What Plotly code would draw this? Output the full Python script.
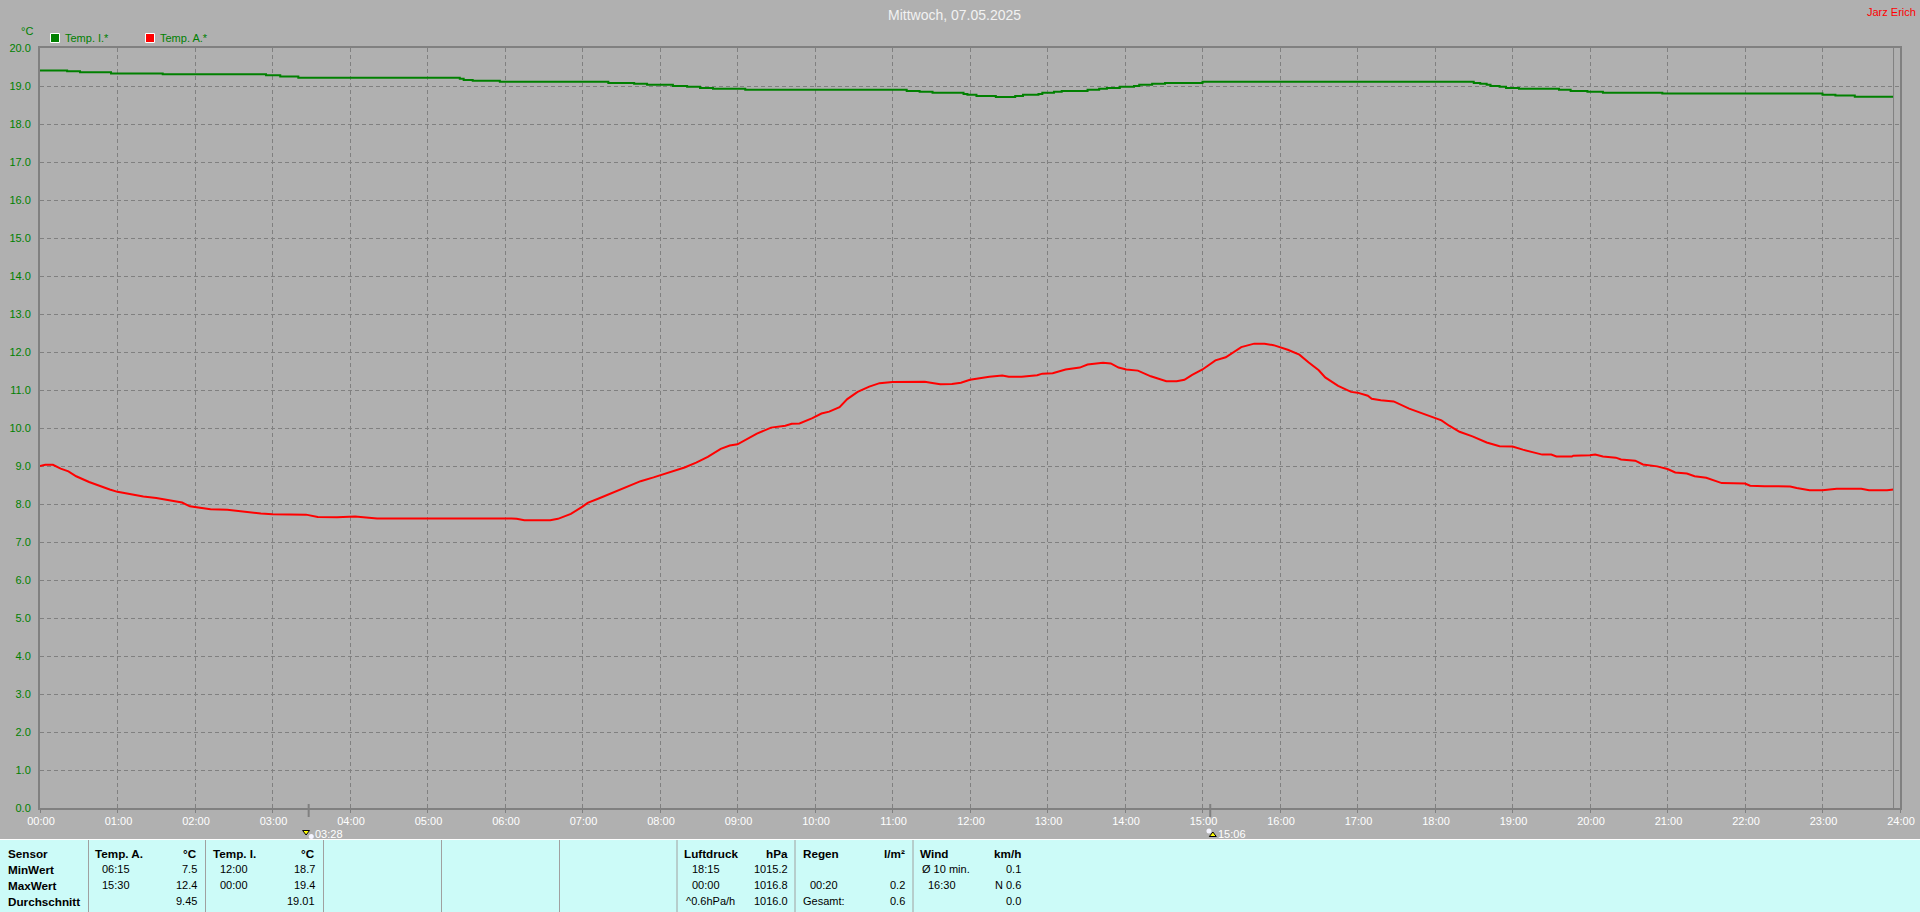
import plotly.graph_objects as go

# ---- data -----------------------------------------------------------------
red_min = [0,4,10,16,22,28,38,47,54,60,70,80,90,100,110,116,124,132,145,153,160,171,180,206,215,230,244,261,
           365,369,375,395,401,411,420,424,433,444,454,465,475,480,490,499,508,517,527,534,540,549,555,566,577,582,588,598,
           605,611,619,625,633,642,650,660,685,692,697,706,713,720,735,745,750,760,772,776,784,794,805,811,823,829,835,841,
           850,860,872,880,886,892,900,910,918,930,940,948,955,966,975,982,990,995,1005,1015,1020,1028,1031,1038,1048,1060,
           1071,1080,1085,1091,1099,1109,1120,1130,1140,1148,1156,1163,1170,1174,1186,1187,1200,1204,1210,1220,1224,1235,
           1241,1252,1260,1266,1275,1281,1290,1302,1320,1324,1335,1355,1360,1370,1380,1391,1410,1416,1430,1435]
red_val = [9.0,9.03,9.03,8.93,8.86,8.73,8.58,8.46,8.38,8.32,8.25,8.2,8.16,8.1,8.04,7.94,7.9,7.86,7.85,7.82,7.78,7.75,7.73,7.72,7.66,7.65,7.67,7.62,
           7.62,7.61,7.57,7.57,7.61,7.74,7.93,8.03,8.15,8.31,8.46,8.6,8.7,8.75,8.87,8.96,9.09,9.24,9.45,9.54,9.57,9.75,9.85,10.01,10.06,10.11,10.12,10.26,
           10.38,10.43,10.55,10.76,10.95,11.09,11.18,11.21,11.22,11.18,11.15,11.16,11.19,11.27,11.35,11.38,11.35,11.35,11.39,11.43,11.44,11.54,11.59,11.67,11.72,11.70,11.59,11.54,
           11.51,11.36,11.23,11.23,11.27,11.40,11.54,11.78,11.86,12.13,12.22,12.22,12.18,12.06,11.93,11.73,11.52,11.33,11.11,10.95,10.93,10.85,10.77,10.73,10.70,10.51,
           10.37,10.27,10.20,10.06,9.90,9.78,9.62,9.52,9.51,9.43,9.36,9.30,9.30,9.25,9.25,9.27,9.28,9.30,9.25,9.22,9.17,9.14,
           9.04,8.99,8.92,8.83,8.80,8.73,8.69,8.55,8.54,8.48,8.47,8.46,8.42,8.36,8.36,8.40,8.40,8.36,8.36,8.38]

green_min = [0,21,31,55,95,175,186,200,325,328,335,356,440,460,470,490,501,511,521,546,671,681,691,
             715,718,725,740,755,761,773,776,785,791,811,820,826,836,847,851,861,871,900,1110,1115,1120,1123,1130,1135,1145,
             1176,1185,1198,1210,1256,1380,1390,1405,1435]
green_val = [19.41,19.39,19.36,19.33,19.31,19.28,19.25,19.22,19.19,19.16,19.14,19.11,19.08,19.06,19.03,19.0,18.98,18.95,18.93,18.9,18.87,18.85,18.82,
             18.79,18.77,18.74,18.71,18.74,18.77,18.79,18.82,18.85,18.87,18.9,18.93,18.95,18.98,19.0,19.03,19.06,19.08,19.11,19.08,19.06,19.03,19.0,18.98,18.95,18.93,
             18.9,18.87,18.85,18.82,18.8,18.77,18.75,18.72,18.72]

hour_labels = ["%02d:00" % h for h in range(25)]
hour_ticks = [h * 60 for h in range(25)]
y_ticks = list(range(21))
y_labels = ["%d.0" % v for v in y_ticks]
sun_min = [208, 906]
sun_labels = ["03:28", "15:06"]
last_sample_min = 1435
title = "Mittwoch, 07.05.2025"
W, H = 1920, 912
BG, GRID, CYAN = "#B0B0B0", "#808080", "#CCFBF8"
FONT = "Liberation Sans"

px = lambda x: x / W
py = lambda y: 1 - y / H

fig = go.Figure()
# invisible trace that keeps the full-page helper axes alive
fig.add_trace(go.Scatter(x=[0], y=[0], xaxis="x2", yaxis="y2", mode="markers", marker=dict(opacity=0), hoverinfo="skip", showlegend=False))
fig.add_trace(go.Scatter(x=green_min, y=green_val, mode="lines", line=dict(color="#008000", width=2, shape="hv"),
                         showlegend=False, name="Temp. I.*"))
fig.add_trace(go.Scatter(x=red_min, y=red_val, mode="lines", line=dict(color="#FF0000", width=2),
                         showlegend=False, name="Temp. A.*"))

# sunrise / sunset icons under the axis (time on a hidden copy of the chart's x axis, height on the page axis)
fig.add_trace(go.Scatter(x=[sun_min[0] + 2, sun_min[1] - 1], y=[836.5, 831], xaxis="x3", yaxis="y2", mode="markers", showlegend=False,
                         cliponaxis=False, hoverinfo="skip", marker=dict(symbol="circle", size=5, color="#F4F4FF")))
fig.add_trace(go.Scatter(x=[sun_min[0] - 2, sun_min[1] + 2], y=[832, 835], xaxis="x3", yaxis="y2", mode="markers", showlegend=False,
                         cliponaxis=False, hoverinfo="skip", marker=dict(symbol=["triangle-down", "triangle-up"], size=6, color="#FFFF00",
                                                       line=dict(color="#000000", width=1))))

def line(x0, y0, x1, y1, color, width):
    return dict(type="line", xref="x2", yref="y2", x0=x0, x1=x1, y0=y0, y1=y1, line=dict(color=color, width=width))

shapes = [
    dict(type="rect", xref="x2", yref="y2", x0=0, x1=W, y0=840, y1=H, fillcolor=CYAN, line_width=0, layer="below"),
    line(0, 839.5, W, 839.5, "white", 1),
    dict(type="line", xref="x", yref="y domain", x0=last_sample_min, x1=last_sample_min, y0=0, y1=1, line=dict(color=GRID, width=1)),
    dict(type="rect", xref="x2", yref="y2", x0=50.5, x1=59.5, y0=33.5, y1=42.5, fillcolor="#008000", line=dict(color="white", width=1)),
    dict(type="rect", xref="x2", yref="y2", x0=145.5, x1=154.5, y0=33.5, y1=42.5, fillcolor="#FF0000", line=dict(color="white", width=1)),
]
for s in sun_min:
    shapes.append(dict(type="line", xref="x", yref="y2", x0=s, x1=s, y0=804, y1=817, line=dict(color=GRID, width=2)))
for sx in [88.5, 205.5, 323.5, 441.5, 559.5, 677, 795, 913]:
    shapes.append(line(sx, 840, sx, H, "#A0A0A0", 1))

anns = []
def txt(x, y, s, anchor="left", bold=False, color="black", size=11):
    t = "<b>%s</b>" % s if bold else s
    anns.append(dict(xref="x2", yref="y2", x=x, y=y, text=t, showarrow=False, xanchor=anchor, yanchor="middle",
                     borderpad=0, font=dict(family=FONT, size=size, color=color)))

txt(954, 15, title, "center", color="#F2F2F2", size=14)
txt(1917, 12, "Jarz Erich", "right", color="#FF0000")
txt(20, 31, "°C", color="#008000")
txt(64, 38, "Temp. I.*", color="#008000")
txt(159, 38, "Temp. A.*", color="#008000")
txt(314, 834, sun_labels[0], color="white")
txt(1217, 834, sun_labels[1], color="white")

rows = [853, 869, 885, 901]
for r, s in zip(rows, ["Sensor", "MinWert", "MaxWert", "Durchschnitt"]):
    txt(6.5, r, s, bold=True, size=11.7)

columns = [
    (94, 101, 198, "Temp. A.", "°C", ["06:15", "15:30", ""], ["7.5", "12.4", "9.45"]),
    (212, 219, 316, "Temp. I.", "°C", ["12:00", "00:00", ""], ["18.7", "19.4", "19.01"]),
    (683, 691, 789, "Luftdruck", "hPa", ["18:15", "00:00", ""], ["1015.2", "1016.8", "1016.0"]),
    (802, 809, 906, "Regen", "l/m²", ["", "00:20", ""], ["", "0.2", "0.6"]),
    (919, 927, 1022, "Wind", "km/h", ["", "16:30", ""], ["0.1", "N 0.6", "0.0"]),
]
for xl, xt, xr, head, unit, times, vals in columns:
    txt(xl, rows[0], head, bold=True, size=11.7)
    txt(xr, rows[0], unit, "right", bold=True, size=11.7)
    for r, t, v in zip(rows[1:], times, vals):
        if t:
            txt(xt, r, t)
        if v:
            txt(xr, r, v, "right")
txt(685, rows[3], "^0.6hPa/h")
txt(802, rows[3], "Gesamt:")
txt(921, rows[1], "Ø 10 min.")

fig.update_layout(
    width=W, height=H, margin=dict(l=0, r=0, t=0, b=0, pad=0), autosize=False,
    paper_bgcolor=BG, plot_bgcolor="rgba(0,0,0,0)", font=dict(family=FONT, size=11), showlegend=False,
    shapes=shapes, annotations=anns,
    xaxis=dict(domain=[px(40), px(1900)], range=[0, 1440], tickmode="array", tickvals=hour_ticks, ticktext=hour_labels,
               tickfont=dict(family=FONT, size=11, color="white"), ticks="outside", ticklen=3, tickcolor=GRID, tickwidth=1,
               showgrid=True, gridcolor=GRID, griddash="4px,3px", gridwidth=1, showline=True, linecolor=GRID, linewidth=2,
               mirror=True, zeroline=False, fixedrange=True, automargin=False, ticklabelshift=1, ticklabelstandoff=-1),
    yaxis=dict(domain=[py(808), py(48)], range=[0, 20], tickmode="array", tickvals=y_ticks, ticktext=y_labels,
               tickfont=dict(family=FONT, size=11, color="#008000"), ticks="", ticklabelstandoff=5,
               showgrid=True, gridcolor=GRID, griddash="4px,3px", gridwidth=1, showline=True, linecolor=GRID, linewidth=2,
               mirror=True, zeroline=False, fixedrange=True, automargin=False),
    xaxis2=dict(domain=[0, 1], range=[0, W], visible=False, anchor="y2", fixedrange=True),
    xaxis3=dict(domain=[px(40), px(1900)], range=[0, 1440], visible=False, anchor="y2", fixedrange=True),
    yaxis2=dict(domain=[0, 1], range=[H, 0], visible=False, anchor="x2", fixedrange=True),
)

fig.write_html("out.html", config=dict(displayModeBar=False),
               post_script="document.body.style.margin='0';document.body.style.overflow='hidden';")
